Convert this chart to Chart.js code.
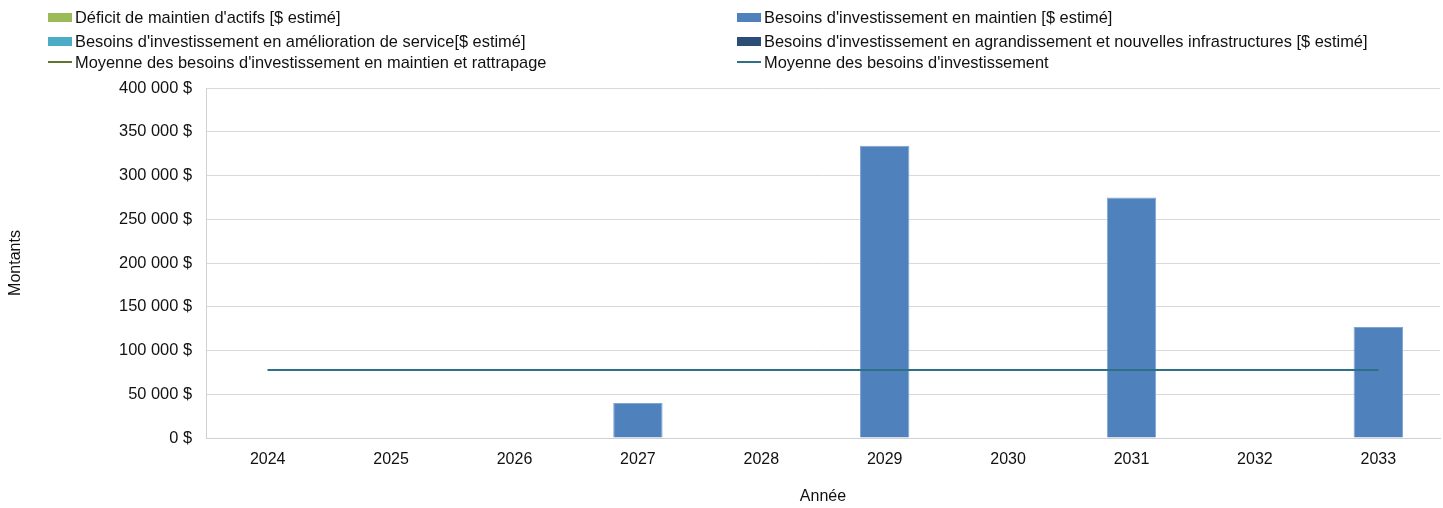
<!DOCTYPE html>
<html>
<head>
<meta charset="utf-8">
<script src="https://cdn.jsdelivr.net/npm/chart.js@4"></script>
<style>
html,body{margin:0;padding:0;background:#fff;}
#wrap{position:relative;width:1443px;height:508px;}
#legend{position:absolute;left:0;top:0;width:1443px;height:80px;font-family:"Liberation Sans",Arial,sans-serif;font-size:16.4px;color:#111;}
.li{position:absolute;display:flex;align-items:center;white-space:nowrap;height:20px;}
.bx{width:24px;height:9px;margin-right:3px;}
.ln{width:24px;height:2px;margin-right:3px;}
</style>
</head>
<body>
<div id="wrap">
<canvas id="c" width="1443" height="508"></canvas>
<div id="legend"></div>
</div>
<script>
const categories = ['2024','2025','2026','2027','2028','2029','2030','2031','2032','2033'];
const deficitMaintien = [0,0,0,0,0,0,0,0,0,0];
const besoinsMaintien = [0,0,0,40000,0,334000,0,275000,0,127000];
const besoinsAmelioration = [0,0,0,0,0,0,0,0,0,0];
const besoinsAgrandissement = [0,0,0,0,0,0,0,0,0,0];
const moyenneMaintienRattrapage = [77600,77600,77600,77600,77600,77600,77600,77600,77600,77600];
const moyenneBesoins = [77600,77600,77600,77600,77600,77600,77600,77600,77600,77600];
const yTicks = [0,50000,100000,150000,200000,250000,300000,350000,400000];
const labels = [
  "Déficit de maintien d'actifs [$ estimé]",
  "Besoins d'investissement en maintien [$ estimé]",
  "Besoins d'investissement en amélioration de service[$ estimé]",
  "Besoins d'investissement en agrandissement et nouvelles infrastructures [$ estimé]",
  "Moyenne des besoins d'investissement en maintien et rattrapage",
  "Moyenne des besoins d'investissement"
];
const colors = ['#9BBB59','#4F81BD','#4BACC6','#2C4D75','#5F7530','#2E7086'];

function fmt(v){
  const s = Math.round(v).toString().replace(/\B(?=(\d{3})+(?!\d))/g,'\u00a0');
  return s + ' $';
}
const FONT = '"Liberation Sans", Arial, sans-serif';

const barCommon = {type:'bar', stack:'bars', order:2, categoryPercentage:1.0, barPercentage:0.4, borderWidth:1};
const ds = [
  Object.assign({label:labels[0], data:deficitMaintien, backgroundColor:colors[0], borderColor:'#B4CD82'}, barCommon),
  Object.assign({label:labels[1], data:besoinsMaintien, backgroundColor:colors[1], borderColor:'#7FA3D2'}, barCommon),
  Object.assign({label:labels[2], data:besoinsAmelioration, backgroundColor:colors[2], borderColor:'#7CC4D7'}, barCommon),
  Object.assign({label:labels[3], data:besoinsAgrandissement, backgroundColor:colors[3], borderColor:'#5A7598'}, barCommon),
  {type:'line', label:labels[4], data:moyenneMaintienRattrapage, borderColor:colors[4], backgroundColor:colors[4], borderWidth:2, pointRadius:0, stack:'l1', order:1, tension:0},
  {type:'line', label:labels[5], data:moyenneBesoins, borderColor:colors[5], backgroundColor:colors[5], borderWidth:2, pointRadius:0, stack:'l2', order:0, tension:0}
];

new Chart(document.getElementById('c'), {
  data:{labels:categories, datasets:ds},
  options:{
    responsive:false, animation:false,
    layout:{padding:{top:88,right:3,left:6,bottom:0}},
    plugins:{legend:{display:false}, tooltip:{enabled:false}},
    scales:{
      x:{stacked:true,
        grid:{display:false, drawTicks:false},
        border:{display:true,color:'#d0d0d0',width:1},
        ticks:{color:'#111',font:{family:FONT,size:16},padding:12,maxRotation:0},
        title:{display:true,text:'Année',color:'#111',font:{family:FONT,size:16},padding:{top:0,bottom:2}},
        afterFit(s){s.height=70;}
      },
      y:{stacked:true,min:0,max:400000,
        afterBuildTicks(s){s.ticks=yTicks.map(v=>({value:v}));},
        grid:{color:'#d9d9d9',drawTicks:false,lineWidth:1},
        border:{display:true,color:'#d0d0d0',width:1},
        ticks:{color:'#111',font:{family:FONT,size:16.4},padding:14,callback:v=>fmt(v)},
        title:{display:true,text:'Montants',color:'#111',font:{family:FONT,size:16},padding:{top:0,bottom:0}},
        afterFit(s){s.width=200;}
      }
    }
  }
});

const leg = document.getElementById('legend');
const pos = [[48,7],[737,7],[48,31],[737,31],[48,52],[737,52]];
const isLine = [false,false,false,false,true,true];
labels.forEach((t,i)=>{
  const d=document.createElement('div');d.className='li';
  d.style.left=pos[i][0]+'px';d.style.top=pos[i][1]+'px';
  const m=document.createElement('span');m.className=isLine[i]?'ln':'bx';m.style.background=colors[i];
  const s=document.createElement('span');s.textContent=t;
  d.appendChild(m);d.appendChild(s);leg.appendChild(d);
});
</script>
</body>
</html>
